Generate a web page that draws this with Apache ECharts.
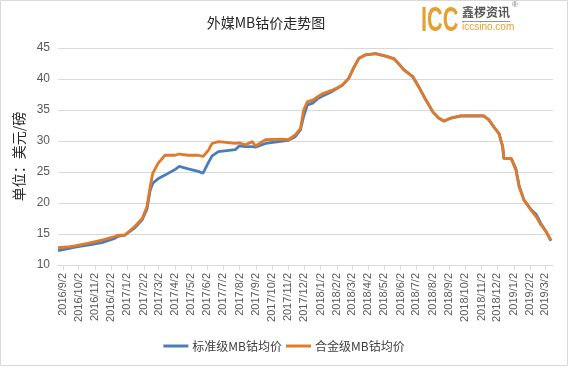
<!DOCTYPE html>
<html>
<head>
<meta charset="utf-8">
<script src="https://cdn.jsdelivr.net/npm/echarts@6/dist/echarts.min.js"></script>
<style>html,body{margin:0;padding:0;background:#fff}#c{width:568px;height:369px}</style>
</head>
<body>
<div id="c"></div>
<script>
const title = '外媒MB钴价走势图';
const yName = '单位：美元/磅';
const seriesNames = ['标准级MB钴均价', '合金级MB钴均价'];
const axisStart = '2016/8/24';
const axisEnd = '2019/3/17';
const tickLabels = ['2016/9/2','2016/10/2','2016/11/2','2016/12/2','2017/1/2','2017/2/2','2017/3/2','2017/4/2','2017/5/2','2017/6/2','2017/7/2','2017/8/2','2017/9/2','2017/10/2','2017/11/2','2017/12/2','2018/1/2','2018/2/2','2018/3/2','2018/4/2','2018/5/2','2018/6/2','2018/7/2','2018/8/2','2018/9/2','2018/10/2','2018/11/2','2018/12/2','2019/1/2','2019/2/2','2019/3/2'];
const dates = ['2016/8/24','2016/9/10','2016/9/25','2016/10/19','2016/11/15','2016/12/9','2016/12/15','2016/12/28','2017/1/16','2017/1/30','2017/2/8','2017/2/14','2017/2/19','2017/3/1','2017/3/14','2017/4/2','2017/4/10','2017/4/27','2017/5/16','2017/5/25','2017/6/4','2017/6/11','2017/6/23','2017/7/25','2017/8/1','2017/8/13','2017/8/26','2017/9/1','2017/9/20','2017/10/22','2017/11/2','2017/11/15','2017/11/25','2017/12/1','2017/12/8','2017/12/18','2017/12/27','2018/1/5','2018/1/24','2018/2/12','2018/2/24','2018/3/5','2018/3/15','2018/3/28','2018/4/16','2018/5/5','2018/5/20','2018/5/28','2018/6/8','2018/6/25','2018/7/6','2018/7/20','2018/8/2','2018/8/13','2018/8/23','2018/9/5','2018/9/24','2018/11/6','2018/11/16','2018/11/25','2018/12/5','2018/12/12','2018/12/14','2018/12/28','2019/1/6','2019/1/12','2019/1/21','2019/2/3','2019/2/13','2019/2/22','2019/3/4','2019/3/13'];
const standard = [12.3,12.6,12.9,13.2,13.6,14.3,14.6,14.8,16.0,17.3,19.0,22.0,23.2,23.9,24.5,25.4,25.9,25.5,25.1,24.8,26.5,27.6,28.3,28.6,29.2,29.1,29.1,29.0,29.6,30.0,30.1,30.7,31.8,34.0,35.8,36.1,36.8,37.2,38.0,39.0,40.1,41.7,43.3,43.9,44.1,43.7,43.3,42.6,41.5,40.4,38.8,36.6,34.7,33.7,33.2,33.7,34.0,34.0,33.4,32.3,31.2,29.1,27.2,27.2,25.5,22.8,20.5,19.0,18.2,16.7,15.4,13.9];
const alloy = [12.8,12.9,13.1,13.5,14.0,14.6,14.8,14.8,16.2,17.5,19.4,22.6,24.8,26.4,27.7,27.7,27.9,27.7,27.7,27.5,28.5,29.6,29.9,29.6,29.7,29.4,29.9,29.2,30.2,30.3,30.2,31.0,32.0,35.0,36.3,36.6,37.1,37.6,38.2,39.0,40.1,41.7,43.3,43.9,44.1,43.7,43.3,42.6,41.5,40.4,38.8,36.6,34.7,33.7,33.2,33.7,34.1,34.1,33.4,32.3,31.2,29.1,27.2,27.2,25.3,22.6,20.5,18.9,17.8,16.5,15.4,14.0];
const yTicks = [10,15,20,25,30,35,40,45];

function parseD(s){const p=s.split('/').map(Number);return Date.UTC(p[0],p[1]-1,p[2]);}
function fmt(t){const d=new Date(t);return d.getUTCFullYear()+'/'+(d.getUTCMonth()+1)+'/'+d.getUTCDate();}
const days=[];
for(let t=parseD(axisStart);t<=parseD(axisEnd);t+=86400000){days.push(fmt(t));}
const tickSet=new Set(tickLabels);
const showTick=(i,v)=>tickSet.has(v);

const chart=echarts.init(document.getElementById('c'));
chart.setOption({
  animation:false,
  backgroundColor:'#fff',
  title:{text:title,left:261,textAlign:'center',top:11,textStyle:{fontFamily:'Noto Sans CJK SC',fontSize:14,fontWeight:'normal',color:'#262626'}},
  grid:{left:58,right:15,top:48,bottom:104,containLabel:false},
  legend:{bottom:12,left:'center',itemWidth:25,itemHeight:3,itemGap:4,icon:'rect',
    textStyle:{fontFamily:'Noto Sans CJK SC',fontSize:12,color:'#404040',padding:[0,0,0,-1]},data:seriesNames},
  xAxis:{type:'category',data:days,boundaryGap:false,
    axisLine:{lineStyle:{color:'#d9d9d9'}},
    axisTick:{interval:showTick,length:5,lineStyle:{color:'#d9d9d9'}},
    axisLabel:{interval:showTick,rotate:90,margin:8,fontFamily:'Liberation Sans',fontSize:11,color:'#595959'},
    splitLine:{show:false}},
  yAxis:{type:'value',min:yTicks[0],max:yTicks[yTicks.length-1],interval:5,
    name:yName,nameLocation:'middle',nameRotate:90,nameGap:25,
    nameTextStyle:{fontFamily:'Noto Sans CJK SC',fontSize:14,color:'#262626'},
    axisLine:{show:false},axisTick:{show:false},
    axisLabel:{fontFamily:'Liberation Sans',fontSize:12,color:'#595959',margin:8},
    splitLine:{lineStyle:{color:'#d9d9d9',width:1}}},
  series:[
    {name:seriesNames[0],type:'line',symbol:'none',data:dates.map((d,i)=>[d,standard[i]]),
      itemStyle:{color:'#4A7EBB'},lineStyle:{color:'#4A7EBB',width:2.8}},
    {name:seriesNames[1],type:'line',symbol:'none',data:dates.map((d,i)=>[d,alloy[i]]),
      itemStyle:{color:'#E07A28'},lineStyle:{color:'#E07A28',width:2.8}}
  ],
  graphic:[
    {type:'rect',shape:{x:0.5,y:0.5,width:567,height:365},style:{fill:null,stroke:'#d9d9d9',lineWidth:1},silent:true},
    {type:'text',left:421,top:4,scaleX:0.62,style:{text:'ICC',font:'bold 35px "Liberation Sans"',fill:'#E5A030'}},
    {type:'text',left:462,top:6,style:{text:'鑫椤资讯',font:'bold 12px "Noto Sans CJK SC"',fill:'#555555'}},
    {type:'rect',shape:{x:462,y:21,width:48,height:1},style:{fill:'#999'}},
    {type:'text',left:462,top:22,style:{text:'iccsino.com',font:'10px "Liberation Sans"',fill:'#E5A030'}},
    {type:'text',left:512,top:1,style:{text:'®',font:'8px "Liberation Sans"',fill:'#777'}}
  ]
});
</script>
</body>
</html>
